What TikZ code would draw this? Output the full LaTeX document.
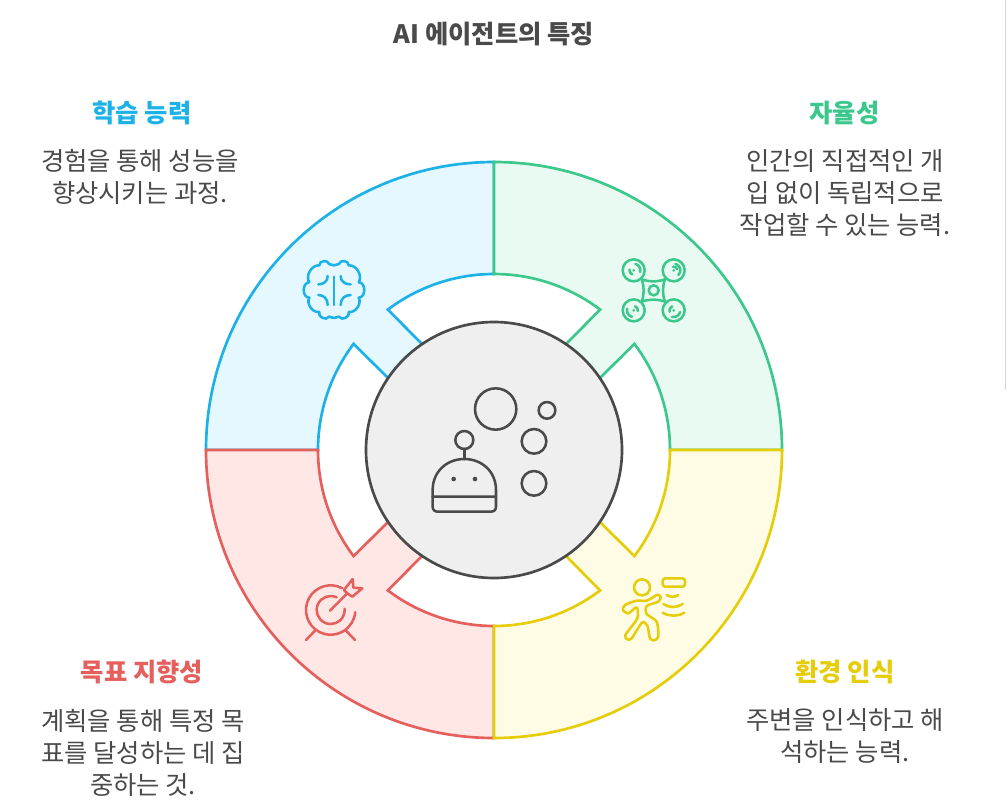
\documentclass[tikz,border=0pt]{standalone}
\usepackage{fontspec}
\usetikzlibrary{calc}
\newfontfamily\kr{Noto Sans CJK KR}
\definecolor{cblue}{HTML}{1CB2E8}\definecolor{fblue}{HTML}{E5F8FF}
\definecolor{cgreen}{HTML}{3CC88C}\definecolor{fgreen}{HTML}{E8FAF2}
\definecolor{cyellow}{HTML}{E6CD0A}\definecolor{fyellow}{HTML}{FFFCE6}
\definecolor{cred}{HTML}{E5605C}\definecolor{fred}{HTML}{FFE7E5}
\definecolor{ink}{HTML}{4A4A4A}\definecolor{hub}{HTML}{EFEFEF}
\tikzset{
 seg/.style={line width=2pt,miter limit=10},
 ico/.style={line width=1.9pt,line cap=round,line join=round},
 iconbox/.style={x=0.25pt,y=-0.25pt},
 bump/.style={bend left=90,looseness=1.25},
 lobe/.style={bend left=65},
 body/.style={font=\kr\fontsize{19}{24.2}\selectfont,text=ink,align=center,anchor=center,inner sep=0pt},
 head/.style={font=\kr\bfseries\fontsize{19}{24}\selectfont,align=center,anchor=center,inner sep=0pt},
}
\newcommand{\sector}[3]{%
 \path[seg,fill=#2,draw=#3] ($(c)+({#1+90}:216pt)$) arc[start angle={#1+90},end angle={#1+180},radius=216pt]
  -- ($(c)+({#1+180}:132pt)$) arc[start angle={#1+180},end angle={#1+142.9},radius=132pt]
  -- ($(c)+({#1+148.1}:79.5pt)$) -- ($(c)+({#1+121.9}:79.5pt)$)
  -- ($(c)+({#1+127.1}:132pt)$) arc[start angle={#1+127.1},end angle={#1+90},radius=132pt] -- cycle;}
\begin{document}
\begin{tikzpicture}[x=0.75pt,y=-0.75pt]
\useasboundingbox (0,0) rectangle (1008,801);
\fill[white] (0,0) rectangle (1008,801);
\coordinate (c) at (494,450);
\draw[line width=0.8pt,color=black!16] (1005.5,0) -- (1005.5,390);
\sector{0}{fblue}{cblue}
\sector{-90}{fgreen}{cgreen}
\sector{90}{fred}{cred}
\sector{180}{fyellow}{cyellow}
\node[circle,draw=ink,fill=hub,line width=2pt,minimum size=192pt,inner sep=0pt] (hubc) at (c) {};
% robot icon
\begin{scope}[shift={(420,380)},iconbox,ico,draw=ink]
\draw (227,87) circle[radius=62];
\draw (381,91) circle[radius=25];
\draw (342,184) circle[radius=37];
\draw (342,310) circle[radius=37];
\draw (133,180) circle[radius=27];
\draw (133,207) -- (133,237);
\draw (38,350) -- (38,330) .. controls (38,275) and (80,237) .. (133,237) .. controls (186,237) and (228,275) .. (228,330) -- (228,350);
\draw (38,350) -- (228,350) -- (228,380) .. controls (228,390) and (222,395) .. (212,395) -- (54,395) .. controls (44,395) and (38,390) .. (38,380) -- cycle;
\fill[ink] (101,297) circle[radius=7] (165,297) circle[radius=7];
\end{scope}
% brain icon
\begin{scope}[shift={(290,240)},iconbox,ico,draw=cblue]
\draw (132,76) to[bend left=12] (147,72) to[bump] (176,76) to[lobe] (206,127) to[bump] (206,173)
 to[lobe] (176,216) to[bump] (147,230) to[bend left=12] (132,234) to[bend left=12] (117,230)
 to[bump] (88,216) to[lobe] (58,173) to[bump] (58,127) to[lobe] (88,76)
 to[bump] (117,72) to[bend left=12] (132,76);
\draw (132,110) -- (132,195);
\draw (113,108) .. controls (113,125) and (100,133) .. (85,133);
\draw (152,108) .. controls (152,125) and (165,133) .. (182,133);
\draw (85,165) .. controls (100,165) and (113,175) .. (113,195);
\draw (182,165) .. controls (165,165) and (152,175) .. (152,195);
\end{scope}
% drone icon
\begin{scope}[shift={(490,240)},iconbox,ico,draw=cgreen]
\foreach \p/\q in {431/91,551/91,431/211,551/211}{
 \draw (\p,\q) circle[radius=33];
 \fill[cgreen] (\p,\q) circle[radius=4.5];}
\draw (491,151) circle[radius=15];
\draw (455,118) .. controls (478,126) and (502,126) .. (525,118) .. controls (517,140) and (517,163) .. (525,185) .. controls (502,177) and (478,177) .. (455,185) .. controls (463,163) and (463,140) .. (455,118) -- cycle;
\draw ($(431,91)+(75:5pt)$) arc[start angle=75,end angle=-15,radius=5pt];
\draw ($(431,91)+(250:3.2pt)$) arc[start angle=250,end angle=170,radius=3.2pt];
\draw ($(551,91)+(75:5pt)$) arc[start angle=75,end angle=-45,radius=5pt];
\draw ($(551,91)+(100:2.8pt)$) arc[start angle=100,end angle=20,radius=2.8pt];
\draw ($(431,211)+(255:5pt)$) arc[start angle=255,end angle=165,radius=5pt];
\draw ($(431,211)+(70:3.2pt)$) arc[start angle=70,end angle=-10,radius=3.2pt];
\draw ($(551,211)+(255:5pt)$) arc[start angle=255,end angle=345,radius=5pt];
\draw ($(551,211)+(200:3.2pt)$) arc[start angle=200,end angle=110,radius=3.2pt];
\end{scope}
% target icon
\begin{scope}[shift={(290,510)},iconbox,ico,draw=cred]
\draw ($(122,300)+(62:18.5pt)$) arc[start angle=62,end angle=355,radius=18.5pt];
\draw ($(122,300)+(65:10.5pt)$) arc[start angle=65,end angle=365,radius=10.5pt];
\draw (120,302) -- (172,250);
\draw (172,250) -- (162,240) -- (188,207) -- (190,233) -- (217,235) -- (187,260) -- cycle;
\draw (75,362) -- (48,390);
\draw (168,362) -- (195,390);
\end{scope}
% runner icon
\begin{scope}[shift={(490,510)},iconbox,ico,draw=cyellow]
\draw (456,232) circle[radius=24];
\draw plot[smooth cycle,tension=0.45] coordinates {(512,262) (503,254) (470,272) (440,272) (405,285) (399,300) (415,310) (440,292) (442,325) (406,375) (412,388) (425,385) (456,338) (472,347) (480,385) (492,391) (505,380) (500,335) (470,312) (470,288) (505,275)};
\draw[rounded corners=2pt] (518,205) rectangle (585,230);
\draw (530,255) .. controls (542,262) and (553,262) .. (565,255);
\draw (520,282) .. controls (538,294) and (560,294) .. (578,282);
\draw (518,308) .. controls (538,320) and (563,320) .. (583,308);
\end{scope}
% texts
\node[head,text=ink] (title) at (494,34) {AI 에이전트의 특징};
\node[head,text=cblue] (t1) at (142,113) {학습 능력};
\node[body] (b1) at (140,177) {경험을 통해 성능을\\향상시키는 과정.};
\node[head,text=cgreen] (t2) at (844.5,113) {자율성};
\node[body] (b2) at (845,193) {인간의 직접적인 개\\입 없이 독립적으로\\작업할 수 있는 능력.};
\node[head,text=cred] (t3) at (142,672) {목표 지향성};
\node[body] (b3) at (143,753) {계획을 통해 특정 목\\표를 달성하는 데 집\\중하는 것.};
\node[head,text=cyellow] (t4) at (845,672) {환경 인식};
\node[body] (b4) at (845,736) {주변을 인식하고 해\\석하는 능력.};
\end{tikzpicture}
\end{document}
